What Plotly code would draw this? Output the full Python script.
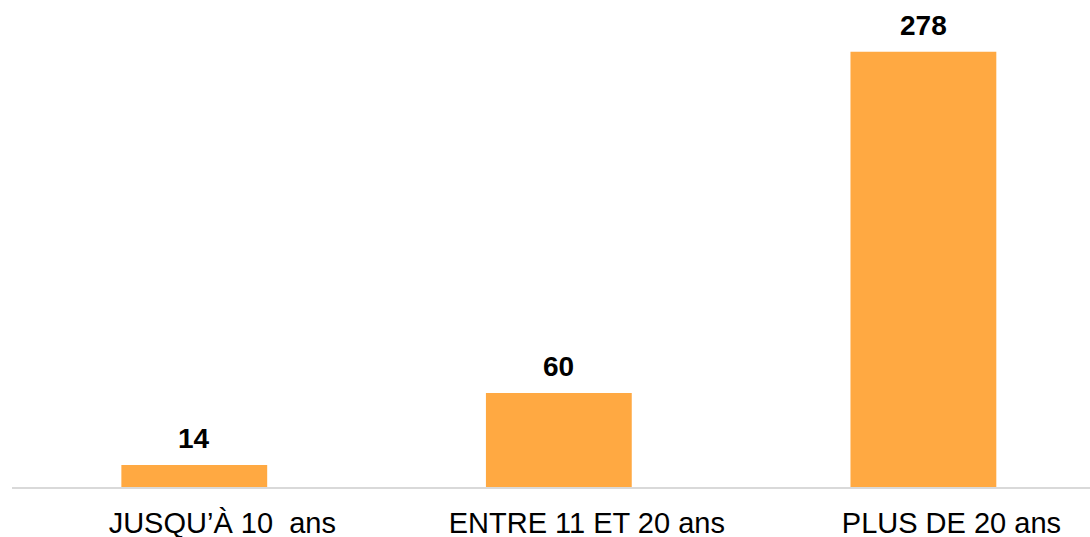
import plotly.graph_objects as go

categories = ["JUSQU\u2019\u00c0 10\u00a0 ans", "ENTRE 11 ET 20 ans", "PLUS DE 20 ans"]
values = [14, 60, 278]
value_labels = ["14", "60", "278"]

bar_color = "#FFA942"
font_family = "Liberation Sans, Arial, sans-serif"

fig = go.Figure()
fig.add_trace(go.Bar(
    x=categories,
    y=values,
    marker=dict(color=bar_color, line=dict(width=0)),
    width=0.4,
    hoverinfo="skip",
))

for c, v, t in zip(categories, values, value_labels):
    fig.add_annotation(
        x=c, y=v, text="<b>%s</b>" % t, showarrow=False,
        yanchor="bottom", yshift=9,
        font=dict(family=font_family, size=28, color="#000000"),
    )

fig.update_layout(
    width=1090, height=537,
    margin=dict(l=12, r=0, t=0, b=50),
    paper_bgcolor="white", plot_bgcolor="white",
    showlegend=False,
    bargap=0.6,
    font=dict(family=font_family, size=29, color="#000000"),
)
fig.update_xaxes(
    range=[-0.5, 2.457],
    showline=True, linecolor="#D9D9D9", linewidth=2,
    showgrid=False, zeroline=False,
    ticks="outside", ticklen=9, tickcolor="rgba(0,0,0,0)",
    ticklabelshift=28,
    tickfont=dict(family=font_family, size=29, color="#000000"),
    automargin=False,
)
fig.update_yaxes(
    range=[0, 311], visible=False, showgrid=False, zeroline=False,
)

fig.write_html(
    "out.html",
    config={"displayModeBar": False},
    post_script="document.body.style.margin='0';document.body.style.overflow='hidden';",
)
